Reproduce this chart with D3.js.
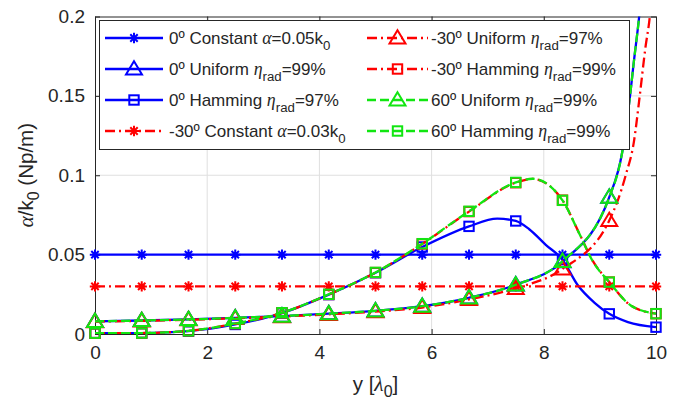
<!DOCTYPE html>
<html>
<head>
<meta charset="utf-8">
<script src="https://cdn.jsdelivr.net/npm/d3@7"></script>
<style>
  body { margin: 0; background: #fff; }
  text { font-family: "Liberation Sans", Arial, sans-serif; fill: #262626; }
  .math { font-family: "Liberation Serif", "DejaVu Serif", serif; font-style: italic; }
</style>
</head>
<body>
<div id="chart"></div>
<script>
// marker positions along y [lambda0]
var markerX = [0, 0.833, 1.667, 2.5, 3.333, 4.167, 5, 5.833, 6.667, 7.5, 8.333, 9.167, 10];

var xTicks = [0, 2, 4, 6, 8, 10];
var yTicks = [0, 0.05, 0.1, 0.15, 0.2];
var yTickLabels = ["0", "0.05", "0.1", "0.15", "0.2"];

// 0º series
var const0X = markerX;
var const0Y = [0.05, 0.05, 0.05, 0.05, 0.05, 0.05, 0.05, 0.05, 0.05, 0.05, 0.05, 0.05, 0.05];
var uniform0X = [0, 0.833, 1.667, 2.5, 3.333, 4.167, 5, 5.833, 6.667, 7.5, 8.333, 9.167, 9.4, 9.52, 9.61, 9.7, 9.8];
var uniform0Y = [0.008, 0.0085, 0.0092, 0.0102, 0.0113, 0.0128, 0.0146, 0.0175, 0.0228, 0.031, 0.0456, 0.0862, 0.115, 0.145, 0.173, 0.2, 0.24];
var hamming0X = [0, 0.833, 1.667, 2.5, 3.333, 4.167, 5, 5.833, 6.667, 7.17, 7.5, 7.74, 8.04, 8.333, 8.6, 8.9, 9.167, 9.5, 10];
var hamming0Y = [0.0005, 0.0006, 0.0018, 0.006, 0.0132, 0.0248, 0.0386, 0.0548, 0.0678, 0.0727, 0.0712, 0.066, 0.056, 0.0468, 0.031, 0.0198, 0.0127, 0.0075, 0.0043];

// -30º series
var const30X = markerX;
var const30Y = [0.03, 0.03, 0.03, 0.03, 0.03, 0.03, 0.03, 0.03, 0.03, 0.03, 0.03, 0.03, 0.03];
var uniform30X = [0, 0.833, 1.667, 2.5, 3.333, 4.167, 5, 5.833, 6.667, 7.5, 8.333, 9.167, 9.46, 9.61, 9.7, 9.81, 9.89, 10];
var uniform30Y = [0.0078, 0.0083, 0.009, 0.0099, 0.011, 0.0124, 0.0141, 0.0167, 0.0218, 0.0288, 0.041, 0.0715, 0.1, 0.122, 0.147, 0.18, 0.2, 0.25];
var hamming30X = [0, 0.833, 1.667, 2.5, 3.333, 4.167, 5, 5.833, 6.667, 7.5, 7.8, 8.333, 8.63, 8.87, 9.167, 9.55, 10];
var hamming30Y = [0.0005, 0.0006, 0.002, 0.0065, 0.0133, 0.0249, 0.0387, 0.0567, 0.0771, 0.0953, 0.0977, 0.0843, 0.0635, 0.0462, 0.0327, 0.018, 0.0128];

// 60º series
var uniform60X = uniform0X;
var uniform60Y = [0.008, 0.0085, 0.0092, 0.0102, 0.0113, 0.0128, 0.0146, 0.0175, 0.0228, 0.031, 0.0458, 0.0862, 0.115, 0.145, 0.173, 0.2, 0.24];
var hamming60X = [0, 0.833, 1.667, 2.5, 3.333, 4.167, 5, 5.833, 6.667, 7.5, 7.8, 8.333, 8.63, 8.87, 9.167, 9.55, 10];
var hamming60Y = [0.0005, 0.0006, 0.002, 0.0066, 0.0134, 0.025, 0.0388, 0.0569, 0.0773, 0.0955, 0.0978, 0.0842, 0.0634, 0.046, 0.0327, 0.018, 0.0128];

var blue = "#0000ff", red = "#ff0000", green = "#11e611";
var solid = null, dashDot = "10,4,2,4", dashed = "9,4";

var series = [
    { x: const0X, y: const0Y, color: blue, dash: solid, marker: "star",
      label: [["0º Constant "], ["α", "math"], ["=0.05k"], ["0", "sub"]] },
    { x: uniform0X, y: uniform0Y, color: blue, dash: solid, marker: "tri",
      label: [["0º Uniform "], ["η", "math"], ["rad", "sub"], ["=99%"]] },
    { x: hamming0X, y: hamming0Y, color: blue, dash: solid, marker: "sq",
      label: [["0º Hamming "], ["η", "math"], ["rad", "sub"], ["=97%"]] },
    { x: const30X, y: const30Y, color: red, dash: dashDot, marker: "star",
      label: [["-30º Constant "], ["α", "math"], ["=0.03k"], ["0", "sub"]] },
    { x: uniform30X, y: uniform30Y, color: red, dash: dashDot, marker: "tri",
      label: [["-30º Uniform "], ["η", "math"], ["rad", "sub"], ["=97%"]] },
    { x: hamming30X, y: hamming30Y, color: red, dash: dashDot, marker: "sq",
      label: [["-30º Hamming "], ["η", "math"], ["rad", "sub"], ["=99%"]] },
    { x: uniform60X, y: uniform60Y, color: green, dash: dashed, marker: "tri",
      label: [["60º Uniform "], ["η", "math"], ["rad", "sub"], ["=99%"]] },
    { x: hamming60X, y: hamming60Y, color: green, dash: dashed, marker: "sq",
      label: [["60º Hamming "], ["η", "math"], ["rad", "sub"], ["=99%"]] }
];

var W = 677, H = 401;
var margin = { top: 16.5, right: 21, bottom: 67, left: 95 };
var width = W - margin.left - margin.right,
    height = H - margin.top - margin.bottom;

var svg = d3.select("#chart").append("svg")
    .attr("width", W).attr("height", H);

var g = svg.append("g")
    .attr("transform", "translate(" + margin.left + "," + margin.top + ")");

var xScale = d3.scaleLinear().domain([0, 10]).range([0, width]);
var yScale = d3.scaleLinear().domain([0, 0.2]).range([height, 0]);

// grid
g.append("g").selectAll("line").data(xTicks.slice(1, -1)).enter().append("line")
    .attr("x1", d => xScale(d)).attr("x2", d => xScale(d))
    .attr("y1", 0).attr("y2", height)
    .attr("stroke", "#dfdfdf").attr("stroke-width", 1);
g.append("g").selectAll("line").data(yTicks.slice(1, -1)).enter().append("line")
    .attr("y1", d => yScale(d)).attr("y2", d => yScale(d))
    .attr("x1", 0).attr("x2", width)
    .attr("stroke", "#dfdfdf").attr("stroke-width", 1);

// axes (ticks inward, box on)
var tickLen = 5;
var xAxis = g.append("g").attr("transform", "translate(0," + height + ")")
    .call(d3.axisBottom(xScale).tickValues(xTicks).tickSizeInner(-tickLen).tickSizeOuter(0).tickPadding(12));
var yAxis = g.append("g")
    .call(d3.axisLeft(yScale).tickValues(yTicks).tickFormat((d, i) => yTickLabels[i])
        .tickSizeInner(-tickLen).tickSizeOuter(0).tickPadding(10));
var xTop = g.append("g")
    .call(d3.axisTop(xScale).tickValues(xTicks).tickSizeInner(-tickLen).tickSizeOuter(0).tickFormat(""));
var yRight = g.append("g").attr("transform", "translate(" + width + ",0)")
    .call(d3.axisRight(yScale).tickValues(yTicks).tickSizeInner(-tickLen).tickSizeOuter(0).tickFormat(""));

[xAxis, yAxis, xTop, yRight].forEach(function (a) {
    a.select(".domain").attr("stroke", "#262626").attr("stroke-width", 1);
    a.selectAll(".tick line").attr("stroke", "#262626");
    a.selectAll("text").attr("fill", "#262626")
        .style("font-family", '"Liberation Sans", Arial, sans-serif')
        .style("font-size", "19px");
});
xAxis.selectAll("text").attr("dy", "0.71em");

// clip for lines
g.append("defs").append("clipPath").attr("id", "clip")
    .append("rect").attr("width", width).attr("height", height);

var lineGen = d3.line()
    .x(d => xScale(d[0]))
    .y(d => yScale(d[1]))
    .curve(d3.curveMonotoneX);

function drawMarker(sel, type, color) {
    if (type === "star") {
        var r = 5.2, q = 3.7;
        sel.append("path")
            .attr("d", "M" + (-r) + ",0H" + r + "M0," + (-r) + "V" + r +
                "M" + (-q) + "," + (-q) + "L" + q + "," + q +
                "M" + (-q) + "," + q + "L" + q + "," + (-q))
            .attr("stroke", color).attr("stroke-width", 2).attr("fill", "none");
    } else if (type === "tri") {
        sel.append("path")
            .attr("d", "M0,-7.8L8,5.6L-8,5.6Z")
            .attr("stroke", color).attr("stroke-width", 2).attr("fill", "none");
    } else {
        sel.append("rect")
            .attr("x", -4.7).attr("y", -4.7).attr("width", 9.4).attr("height", 9.4)
            .attr("stroke", color).attr("stroke-width", 2).attr("fill", "none");
    }
}

function isMarker(x) {
    return markerX.some(m => Math.abs(m - x) < 1e-6);
}

series.forEach(function (s) {
    var pts = s.x.map((x, i) => [x, s.y[i]]);
    g.append("path")
        .datum(pts)
        .attr("clip-path", "url(#clip)")
        .attr("fill", "none")
        .attr("stroke", s.color)
        .attr("stroke-width", 2.3)
        .attr("stroke-dasharray", s.dash)
        .attr("d", lineGen);
    pts.filter(p => isMarker(p[0]) && p[1] <= 0.2).forEach(function (p) {
        var m = g.append("g")
            .attr("transform", "translate(" + xScale(p[0]) + "," + yScale(p[1]) + ")");
        drawMarker(m, s.marker, s.color);
    });
});

// rich text helper (math italic + subscripts)
function richText(sel, parts, size) {
    var shifted = false;
    parts.forEach(function (p) {
        var t = sel.append("tspan").text(p[0]);
        if (p[1] === "math") t.attr("class", "math").style("font-size", (size * 1.05) + "px");
        if (p[1] === "sub") {
            t.style("font-size", (size * 0.78) + "px").attr("dy", 6);
            shifted = true;
        } else if (shifted) {
            t.attr("dy", -6);
            shifted = false;
        }
    });
}

// legend
var legend = svg.append("g");
legend.append("rect")
    .attr("x", 99.5).attr("y", 20.5).attr("width", 530).attr("height", 129)
    .attr("fill", "#fff").attr("stroke", "#262626").attr("stroke-width", 1);

var legendCols = [{ x1: 105, x2: 163, text: 169 }, { x1: 367, x2: 428, text: 431 }];
var legendRows = [38, 69, 100, 131];

series.forEach(function (s, i) {
    var col = legendCols[Math.floor(i / 4)], ry = legendRows[i % 4];
    legend.append("line")
        .attr("x1", col.x1).attr("x2", col.x2).attr("y1", ry).attr("y2", ry)
        .attr("stroke", s.color).attr("stroke-width", 2.3)
        .attr("stroke-dasharray", s.dash);
    var m = legend.append("g")
        .attr("transform", "translate(" + ((col.x1 + col.x2) / 2) + "," + ry + ")");
    drawMarker(m, s.marker, s.color);
    var t = legend.append("text")
        .attr("x", col.text).attr("y", ry + 6)
        .style("font-size", "17px");
    richText(t, s.label, 17);
});

// axis labels
var xl = svg.append("text")
    .attr("x", margin.left + width / 2).attr("y", 391)
    .attr("text-anchor", "middle").style("font-size", "20.5px");
richText(xl, [["y ["], ["λ", "math"], ["0", "sub"], ["]"]], 20.5);

var yl = svg.append("text")
    .attr("transform", "translate(33," + (margin.top + height / 2) + ") rotate(-90)")
    .attr("text-anchor", "middle").style("font-size", "20.5px");
richText(yl, [["α", "math"], ["/k"], ["0", "sub"], [" (Np/m)"]], 20.5);
</script>
</body>
</html>
